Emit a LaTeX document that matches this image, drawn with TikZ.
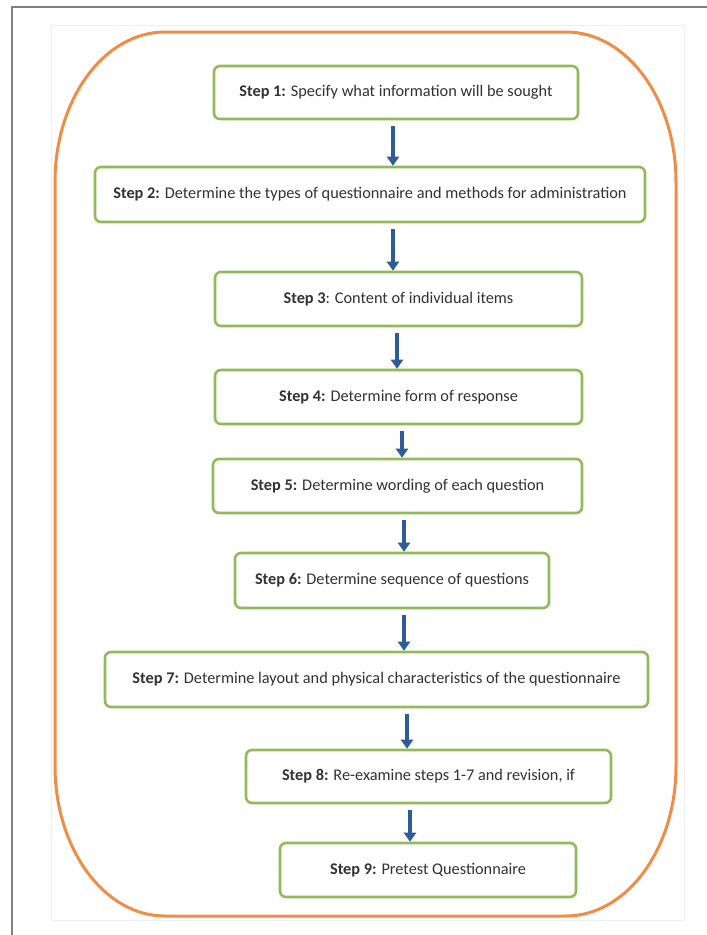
\documentclass[tikz,border=0pt]{standalone}
\usepackage{fontspec}
\setmainfont{Carlito}
\usetikzlibrary{arrows.meta}
\definecolor{stepgreen}{RGB}{146,186,88}
\definecolor{arrowblue}{RGB}{46,92,150}
\definecolor{framegray}{RGB}{128,128,128}
\definecolor{orangeline}{RGB}{240,140,70}
\definecolor{textgray}{RGB}{50,50,50}
\definecolor{faintgray}{RGB}{238,238,238}
\begin{document}
\begin{tikzpicture}[x=1pt,y=-1pt,
  stepbox/.style={draw=stepgreen, line width=2.6pt, rounded corners=6pt, fill=white,
    inner sep=0pt, font=\fontsize{16.3}{19}\selectfont, text=textgray},
  arr/.style={draw=arrowblue, line width=3.6pt, shorten <=6pt,
    -{Triangle[width=12pt,length=9pt]}}]
\useasboundingbox (0,0) rectangle (707,935);
\fill[white] (0,0) rectangle (707,935);
\draw[framegray, line width=2pt] (12,936) -- (12,7) -- (708,7);
\draw[faintgray, line width=1pt] (51,25) rectangle (684,920);
\draw[orangeline, line width=3pt]
  (165,32) -- (566,32)
  arc[start angle=-90, end angle=0, x radius=110, y radius=150]
  -- (676,766)
  arc[start angle=0, end angle=90, x radius=110, y radius=150]
  -- (165,916)
  arc[start angle=90, end angle=180, x radius=110, y radius=150]
  -- (55,182)
  arc[start angle=180, end angle=270, x radius=110, y radius=150]
  -- cycle;
\node[stepbox, minimum width=364pt, minimum height=53pt] (s1) at (396,92.5)
  {\textbf{Step 1:} Specify what information will be sought};
\node[stepbox, minimum width=550pt, minimum height=55pt] (s2) at (370,194.5)
  {\textbf{Step 2:} Determine the types of questionnaire and methods for administration};
\node[stepbox, minimum width=367pt, minimum height=54pt] (s3) at (398.5,299)
  {\textbf{Step 3}: Content of individual items};
\node[stepbox, minimum width=367pt, minimum height=54pt] (s4) at (398.5,397)
  {\textbf{Step 4:} Determine form of response};
\node[stepbox, minimum width=369pt, minimum height=54pt] (s5) at (397.5,486)
  {\textbf{Step 5:} Determine wording of each question};
\node[stepbox, minimum width=314pt, minimum height=55pt] (s6) at (392,580.5)
  {\textbf{Step 6:} Determine sequence of questions};
\node[stepbox, minimum width=543pt, minimum height=55pt] (s7) at (376.5,679.5)
  {\textbf{Step 7:} Determine layout and physical characteristics of the questionnaire};
\node[stepbox, minimum width=365pt, minimum height=53pt] (s8) at (428.5,776.5)
  {\textbf{Step 8:} Re-examine steps 1-7 and revision, if};
\node[stepbox, minimum width=296pt, minimum height=54pt] (s9) at (428,870)
  {\textbf{Step 9:} Pretest Questionnaire};
\coordinate (c1) at (393,0);
\coordinate (c2) at (393,0);
\coordinate (c3) at (397,0);
\coordinate (c4) at (402,0);
\coordinate (c5) at (404,0);
\coordinate (c6) at (404,0);
\coordinate (c7) at (407,0);
\coordinate (c8) at (410,0);
\draw[arr] (s1.south -| c1) -- (s2.north -| c1);
\draw[arr] (s2.south -| c2) -- (s3.north -| c2);
\draw[arr] (s3.south -| c3) -- (s4.north -| c3);
\draw[arr] (s4.south -| c4) -- (s5.north -| c4);
\draw[arr] (s5.south -| c5) -- (s6.north -| c5);
\draw[arr] (s6.south -| c6) -- (s7.north -| c6);
\draw[arr] (s7.south -| c7) -- (s8.north -| c7);
\draw[arr] (s8.south -| c8) -- (s9.north -| c8);
\end{tikzpicture}
\end{document}
